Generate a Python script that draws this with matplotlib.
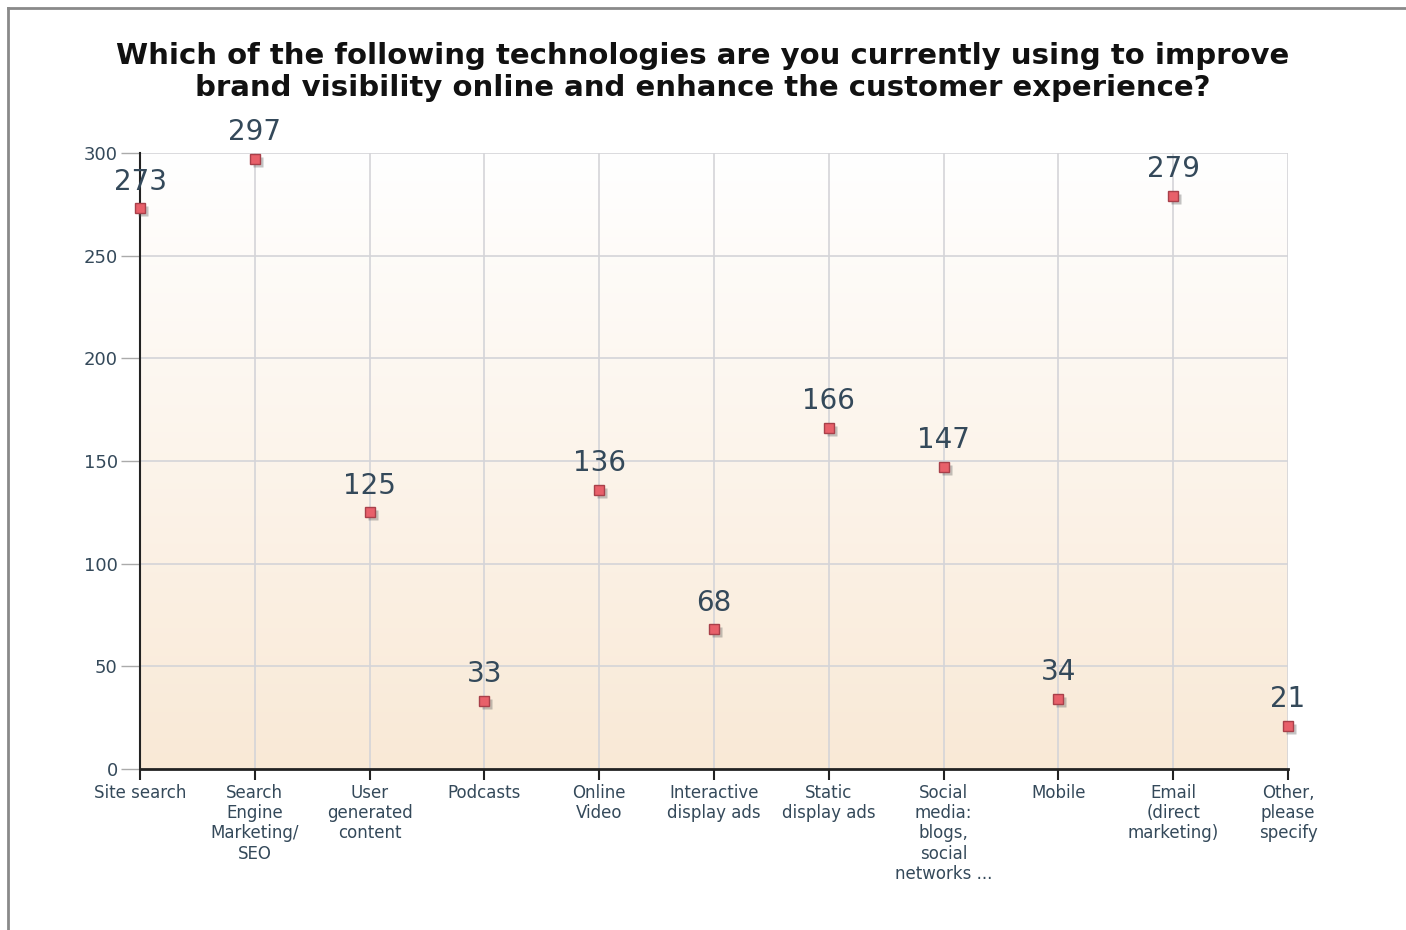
import matplotlib.pyplot as plt
import matplotlib.transforms as mtransforms
from matplotlib.lines import Line2D
import numpy as np

# Survey answers (number of respondents per technology)
categories = [
    "Site search",
    "Search\nEngine\nMarketing/\nSEO",
    "User\ngenerated\ncontent",
    "Podcasts",
    "Online\nVideo",
    "Interactive\ndisplay ads",
    "Static\ndisplay ads",
    "Social\nmedia:\nblogs,\nsocial\nnetworks ...",
    "Mobile",
    "Email\n(direct\nmarketing)",
    "Other,\nplease\nspecify",
]
responses = [273, 297, 125, 33, 136, 68, 166, 147, 34, 279, 21]
y_ticks = [0, 50, 100, 150, 200, 250, 300]

title = ("Which of the following technologies are you currently using to improve\n"
         "brand visibility online and enhance the customer experience?")

text_color = "#34495a"

fig = plt.figure(figsize=(14.06, 9.30), dpi=100)
ax = fig.add_axes([140 / 1406, 1 - 769 / 930, 1148 / 1406, 616 / 930])

x = np.arange(len(categories))

# gradient background: white at top, light beige at bottom
top_col = np.array([255, 255, 255]) / 255
bot_col = np.array([249, 233, 214]) / 255
t = np.linspace(0, 1, 256)[:, None]
grad = (1 - t) * top_col + t * bot_col
ax.imshow(grad[:, None, :], extent=[0, 10, 0, 300], aspect="auto",
          origin="upper", zorder=0)

ax.set_xlim(0, 10)
ax.set_ylim(0, 300)

# grid
for xi in x:
    ax.axvline(xi, color="#d4d4d8", lw=1.2, zorder=1)
for yv in y_ticks[1:]:
    ax.axhline(yv, color="#d4d4d8", lw=1.2, zorder=1)

# marker shadows
shadow = mtransforms.offset_copy(ax.transData, fig=fig, x=3, y=-3, units="dots")
ax.plot(x, responses, ls="none", marker="s", markersize=7.5,
        color="#555555", alpha=0.35, mec="none", transform=shadow,
        zorder=3, clip_on=False)
ax.plot(x, responses, ls="none", marker="s", markersize=7,
        mfc="#e8606a", mec="#a8404a", mew=1, zorder=4, clip_on=False)

for xi, v in zip(x, responses):
    ax.annotate(str(v), (xi, v), xytext=(0, 13.5), textcoords="offset points",
                ha="center", va="baseline", fontsize=20, color=text_color,
                zorder=5, annotation_clip=False)

for side in ["top", "right"]:
    ax.spines[side].set_visible(False)
ax.spines["left"].set_color("#222222")
ax.spines["bottom"].set_color("#222222")
ax.spines["left"].set_linewidth(1.5)
ax.spines["bottom"].set_linewidth(2)

ax.set_xticks(x)
ax.set_xticklabels(categories, fontsize=12, color=text_color, linespacing=1.15)
ax.tick_params(axis="x", length=8, width=1.5, color="#222222", pad=3)
ax.set_yticks(y_ticks)
ax.set_yticklabels([str(v) for v in y_ticks], fontsize=13, color=text_color)
ax.tick_params(axis="y", length=14, width=1, color="#aaaaaa", pad=2)

fig.text(0.5, 1 - 72 / 930, title, ha="center", va="center", fontsize=21,
         fontweight="bold", color="#111111", linespacing=1.2)

# outer frame
fig.add_artist(Line2D([8 / 1406, 8 / 1406], [0, 1 - 8 / 930],
                      color="#8a8a8a", lw=2, transform=fig.transFigure))
fig.add_artist(Line2D([8 / 1406, 1], [1 - 8 / 930, 1 - 8 / 930],
                      color="#8a8a8a", lw=2, transform=fig.transFigure))

fig.savefig("out.png", dpi=100)
